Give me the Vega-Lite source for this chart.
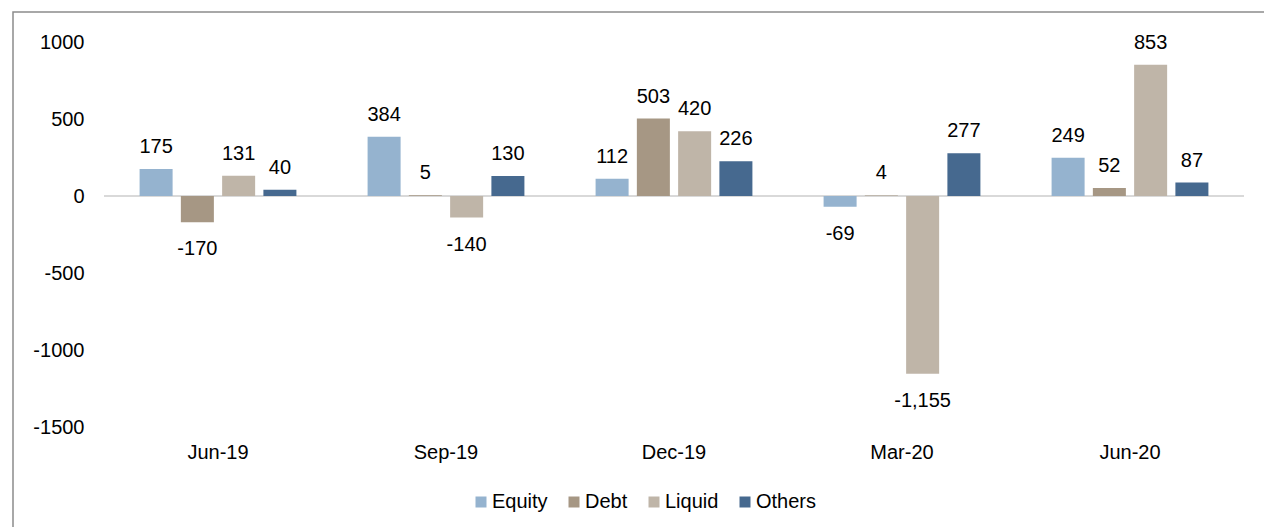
{
  "$schema": "https://vega.github.io/schema/vega-lite/v6.json",
  "width": 1256,
  "height": 520,
  "autosize": "none",
  "padding": {"left": 13, "top": 12, "right": -5, "bottom": -5},
  "background": "white",
  "config": {
    "font": "Liberation Sans",
    "locale": {"number": {"decimal": ".", "thousands": ",", "grouping": [3], "currency": ["$", ""], "minus": "-"}},
    "view": {"stroke": "#8c8c8c", "strokeWidth": 1.5},
    "axis": {"labelFont": "Liberation Sans", "labelFontSize": 20, "labelColor": "#000000", "grid": false, "ticks": false, "domain": false, "title": null},
    "legend": {"labelFont": "Liberation Sans", "labelFontSize": 20, "labelColor": "#000000"}
  },
  "data": {
    "values": [
      {"quarter": "Jun-19", "series": "Equity", "value": 175},
      {"quarter": "Jun-19", "series": "Debt", "value": -170},
      {"quarter": "Jun-19", "series": "Liquid", "value": 131},
      {"quarter": "Jun-19", "series": "Others", "value": 40},
      {"quarter": "Sep-19", "series": "Equity", "value": 384},
      {"quarter": "Sep-19", "series": "Debt", "value": 5},
      {"quarter": "Sep-19", "series": "Liquid", "value": -140},
      {"quarter": "Sep-19", "series": "Others", "value": 130},
      {"quarter": "Dec-19", "series": "Equity", "value": 112},
      {"quarter": "Dec-19", "series": "Debt", "value": 503},
      {"quarter": "Dec-19", "series": "Liquid", "value": 420},
      {"quarter": "Dec-19", "series": "Others", "value": 226},
      {"quarter": "Mar-20", "series": "Equity", "value": -69},
      {"quarter": "Mar-20", "series": "Debt", "value": 4},
      {"quarter": "Mar-20", "series": "Liquid", "value": -1155},
      {"quarter": "Mar-20", "series": "Others", "value": 277},
      {"quarter": "Jun-20", "series": "Equity", "value": 249},
      {"quarter": "Jun-20", "series": "Debt", "value": 52},
      {"quarter": "Jun-20", "series": "Liquid", "value": 853},
      {"quarter": "Jun-20", "series": "Others", "value": 87}
    ]
  },
  "layer": [
    {
      "data": {"values": [{}]},
      "mark": {"type": "rule", "color": "#d9d9d9", "strokeWidth": 2},
      "encoding": {
        "x": {"datum": 0, "type": "quantitative", "scale": {"domain": [0, 1], "range": [91, 1231]}, "axis": null},
        "x2": {"datum": 1},
        "y": {"datum": 0, "type": "quantitative"}
      }
    },
    {
      "encoding": {
        "x": {
          "field": "quarter", "type": "nominal",
          "sort": ["Jun-19", "Sep-19", "Dec-19", "Mar-20", "Jun-20"],
          "scale": {"range": [91, 1231], "paddingInner": 0.276, "paddingOuter": 0.138},
          "axis": {"labelAngle": 0, "offset": -74, "labelPadding": 0, "labelBaseline": "alphabetic"}
        },
        "xOffset": {
          "field": "series", "type": "nominal",
          "sort": ["Equity", "Debt", "Liquid", "Others"],
          "scale": {"paddingInner": 0.2, "paddingOuter": 0.1}
        },
        "y": {
          "field": "value", "type": "quantitative",
          "scale": {"domain": [-1500, 1000], "range": [415, 30], "nice": false, "zero": false},
          "axis": {"values": [-1500, -1000, -500, 0, 500, 1000], "format": "d", "offset": -71, "labelPadding": 0, "labelBaseline": "middle"}
        }
      },
      "layer": [
        {
          "mark": {"type": "bar"},
          "encoding": {
            "color": {
              "field": "series", "type": "nominal",
              "sort": ["Equity", "Debt", "Liquid", "Others"],
              "scale": {"domain": ["Equity", "Debt", "Liquid", "Others"], "range": ["#95B3CF", "#A69784", "#BFB5A8", "#46698F"]},
              "legend": {
                "title": null, "orient": "none", "direction": "horizontal",
                "legendX": 458, "legendY": 480,
                "symbolType": "square", "symbolSize": 121, "symbolStrokeWidth": 0,
                "labelOffset": 1, "columnPadding": 16
              }
            }
          }
        },
        {
          "transform": [{"filter": "datum.value >= 0"}],
          "mark": {"type": "text", "fontSize": 20, "color": "#000000", "baseline": "alphabetic", "dy": -16},
          "encoding": {"text": {"field": "value", "type": "quantitative", "format": ","}}
        },
        {
          "transform": [{"filter": "datum.value < 0"}],
          "mark": {"type": "text", "fontSize": 20, "color": "#000000", "baseline": "alphabetic", "dy": 33},
          "encoding": {"text": {"field": "value", "type": "quantitative", "format": ","}}
        }
      ]
    }
  ],
  "resolve": {"scale": {"x": "independent"}}
}
